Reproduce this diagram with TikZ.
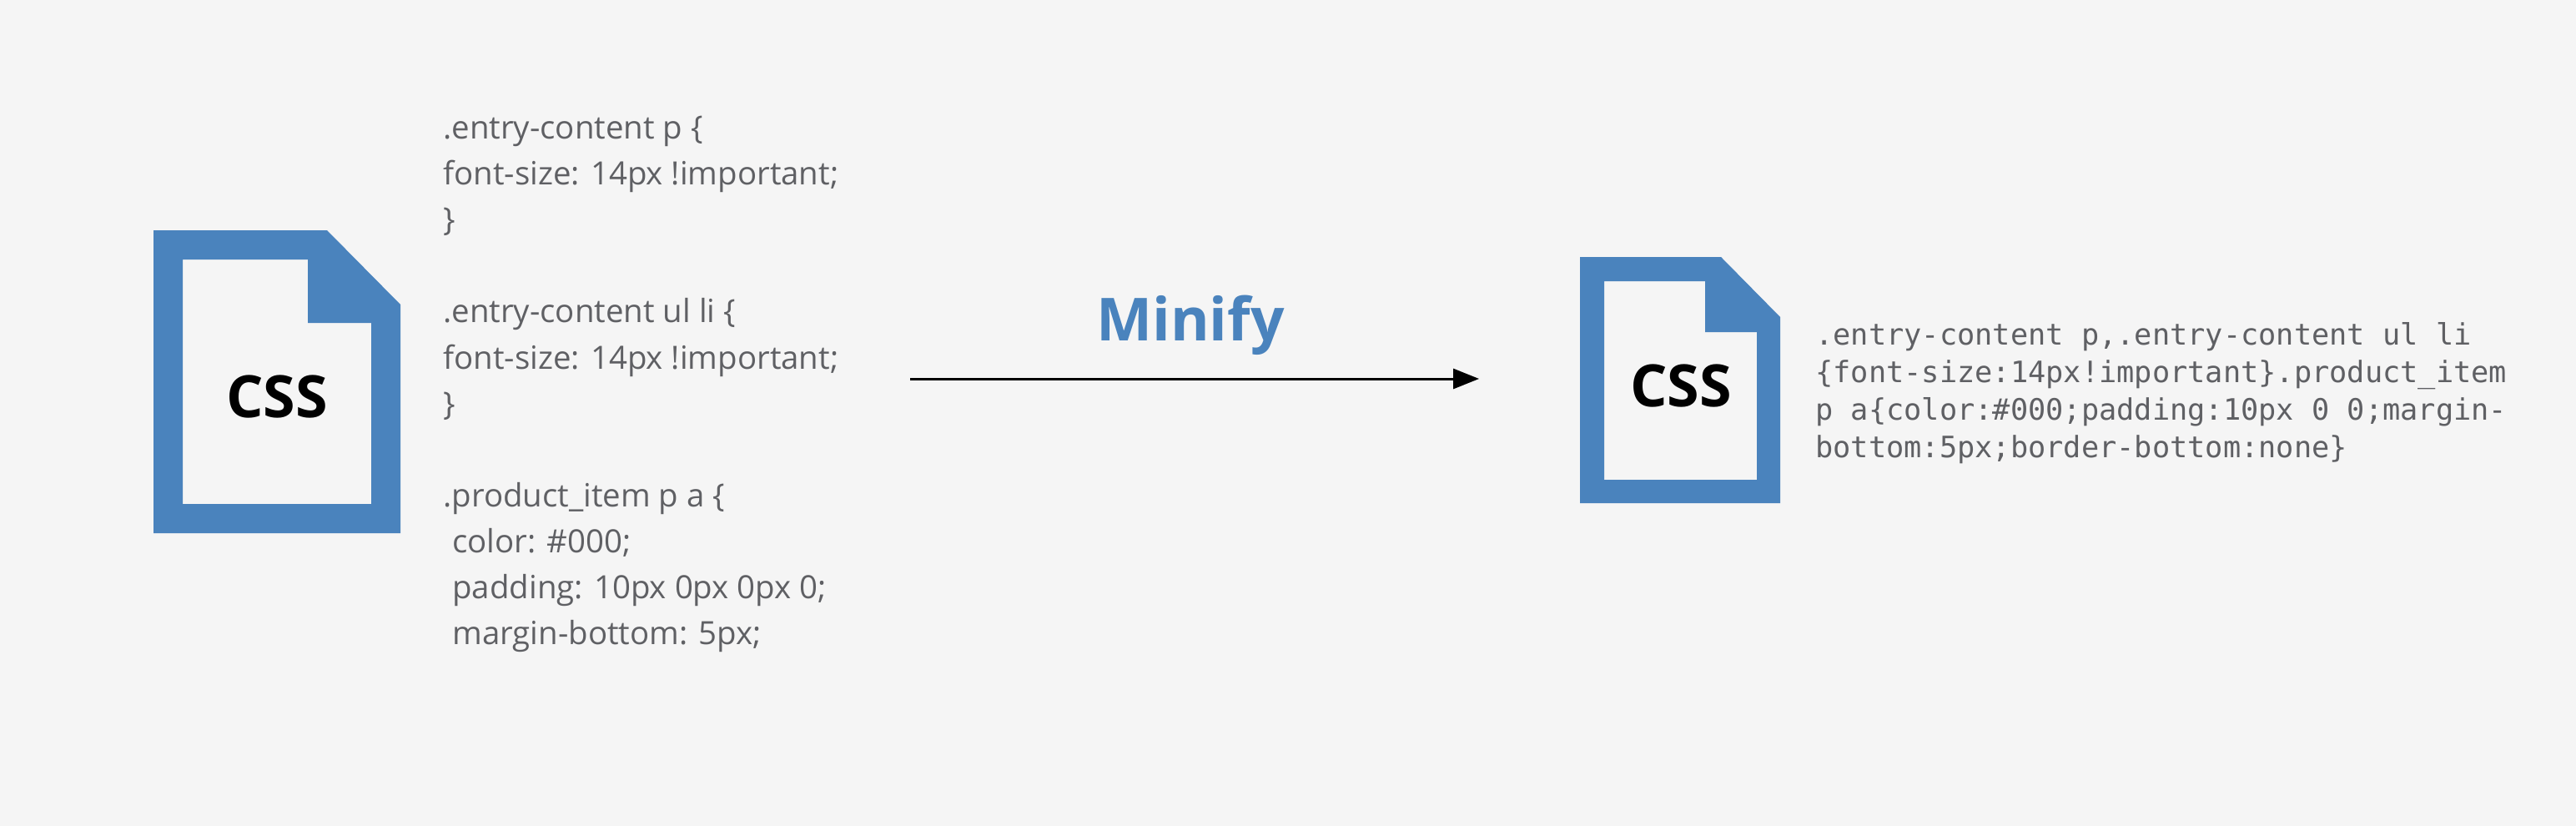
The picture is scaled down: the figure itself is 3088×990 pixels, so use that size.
\documentclass[tikz,border=0pt]{standalone}
\usepackage{fontspec}
\setmainfont{Open Sans}
\newfontfamily\monofam{DejaVu Sans Mono}
\usetikzlibrary{arrows.meta}
\definecolor{pagebg}{HTML}{F5F5F5}
\definecolor{iconblue}{HTML}{4A83BD}
\definecolor{codegray}{HTML}{5F6064}
\tikzset{
  x=0.5pt,y=-0.5pt,
  icon/.style={fill=iconblue,even odd rule,draw=none},
  csslabel/.style={font=\bfseries\fontsize{35}{35}\selectfont,text=black,inner sep=0pt,anchor=center},
  srccode/.style={font=\fontsize{19.2}{27.55}\selectfont,text=codegray,align=left,inner sep=0pt,anchor=base west},
  mincode/.style={font=\monofam\fontsize{17.65}{22.5}\selectfont,text=codegray,align=left,inner sep=0pt,anchor=base west},
  verb/.style={font=\bfseries\fontsize{35.6}{36}\selectfont,text=iconblue,inner sep=0pt,anchor=base},
  flow/.style={draw=black,line width=1.5pt,-{Triangle[length=15.5pt,width=12pt]}}
}
\begin{document}
\begin{tikzpicture}
\path[use as bounding box,fill=pagebg] (0,0) rectangle (3088,990);
% large icon
\path[icon] (184,276) -- (392,276) -- (480,365) -- (480,639) -- (184,639) -- cycle
  (219,311) -- (369,311) -- (369,387) -- (445,387) -- (445,604) -- (219,604) -- cycle;
\node[csslabel] (cssa) at (332,475) {CSS};
% source code
\node[srccode] (source) at (531,772.6) {.entry-content p \{\\
font-size: 14px !important;\\
\}\\
~\\
.entry-content ul li \{\\
font-size: 14px !important;\\
\}\\
~\\
.product\_item p a \{\\
\hspace{5.5pt}color: \#000;\\
\hspace{5.5pt}padding: 10px 0px 0px 0;\\
\hspace{5.5pt}margin-bottom: 5px;};
% arrow
\coordinate (from) at (1091,454);
\coordinate (to) at (1773,454);
\draw[flow] (from) -- (to);
\node[verb] (minify) at (1427,408) {Minify};
% small icon
\path[icon] (1894,308) -- (2063,308) -- (2134,380) -- (2134,603) -- (1894,603) -- cycle
  (1923,337) -- (2044,337) -- (2044,398) -- (2106,398) -- (2106,575) -- (1923,575) -- cycle;
\node[csslabel] (cssb) at (2015,462) {CSS};
% minified code
\node[mincode] (minified) at (2176,548) {.entry-content p,.entry-content ul li\\
\{font-size:14px!important\}.product\_item\\
p a\{color:\#000;padding:10px 0 0;margin-\\
bottom:5px;border-bottom:none\}};
\end{tikzpicture}
\end{document}
